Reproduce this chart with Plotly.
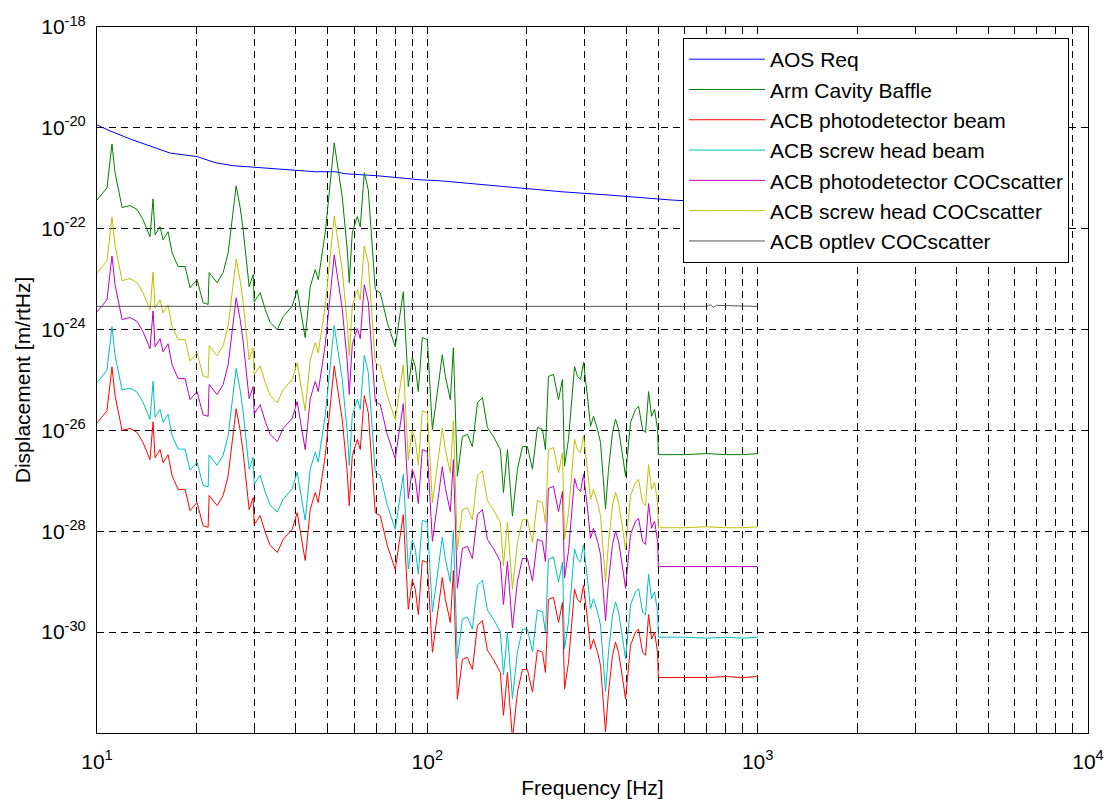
import plotly.graph_objects as go

# ---------------- data ----------------
# shared frequency grid of the scattered-light spectra [Hz]
freq = [10.0, 10.43, 10.72, 11.10, 11.34, 11.91, 12.59, 13.22, 13.78, 14.47,
        14.78, 14.99, 15.52, 15.85, 16.41, 16.88, 17.60, 18.48, 19.13, 20.09,
        20.95, 21.70, 21.85, 23.10, 24.09, 24.95, 26.38, 27.13, 27.70, 28.88,
        29.70, 29.91, 31.19, 32.30, 33.45, 35.13, 36.62, 38.98, 40.36, 42.68,
        44.21, 45.78, 46.75, 49.08, 52.26, 55.26, 57.23, 58.03, 59.26, 61.37,
        62.66, 64.44, 66.26, 69.57, 72.04, 75.64, 79.98, 84.58, 87.58, 90.05,
        91.94, 93.91, 96.56, 100.0, 103.6, 107.2, 111.0, 113.4, 117.4, 119.9,
        123.3, 127.7, 132.2, 136.9, 141.8, 146.8, 152.0, 158.5, 166.4, 170.0,
        174.8, 181.0, 187.4, 194.1, 200.9, 208.1, 215.4, 223.1, 227.8, 232.6,
        240.9, 249.5, 256.5, 260.2, 267.5, 279.0, 284.9, 290.9, 297.0, 305.4,
        311.9, 318.4, 327.5, 334.4, 346.3, 353.6, 363.6, 371.3, 379.2, 392.7,
        398.1, 412.3, 426.9, 436.0, 448.3, 457.8, 467.5, 477.4, 487.5, 497.8,
        500.5, 600.0, 700.0, 800.0, 900.0, 1000.0]

# log10 of displacement [m/rtHz]
arm_cavity_baffle_log = [
    -21.43, -21.27, -21.19, -20.32, -20.89, -21.58, -21.54, -21.62, -21.82, -22.16,
    -21.41, -22.12, -21.96, -22.22, -22.06, -22.48, -22.75, -22.75, -23.17, -23.01,
    -23.47, -23.50, -22.87, -23.07, -22.87, -22.48, -21.15, -21.58, -22.02, -23.15,
    -22.91, -23.45, -23.27, -23.60, -23.86, -24.00, -23.74, -23.54, -23.21, -24.16,
    -23.15, -22.81, -23.01, -22.08, -20.30, -21.37, -22.42, -23.07, -22.08, -21.76,
    -21.96, -20.89, -21.23, -23.21, -23.27, -23.86, -24.34, -23.25, -25.13, -24.55,
    -24.73, -25.23, -24.16, -24.20, -25.98, -25.25, -24.50, -24.93, -25.39, -24.36,
    -26.91, -26.12, -26.08, -26.32, -25.45, -25.35, -25.94, -26.12, -26.38, -27.23,
    -26.38, -27.70, -26.77, -26.32, -26.32, -26.77, -25.94, -25.98, -26.38, -24.93,
    -24.89, -25.39, -24.99, -26.71, -26.18, -24.73, -24.93, -24.99, -24.65, -25.33,
    -25.92, -25.72, -25.98, -26.24, -27.56, -26.77, -26.04, -25.78, -25.98, -26.63,
    -26.91, -25.84, -25.58, -25.52, -25.98, -26.04, -25.23, -25.72, -25.58, -25.98,
    -26.48, -26.48, -26.46, -26.48, -26.48, -26.46]

screw_head_cocscatter_log = [
    -22.88, -22.72, -22.64, -21.77, -22.34, -23.03, -22.99, -23.07, -23.27, -23.61,
    -22.86, -23.57, -23.41, -23.67, -23.51, -23.93, -24.20, -24.20, -24.62, -24.46,
    -24.92, -24.95, -24.32, -24.52, -24.32, -23.93, -22.60, -23.03, -23.47, -24.60,
    -24.36, -24.90, -24.72, -25.05, -25.31, -25.45, -25.19, -24.99, -24.66, -25.61,
    -24.60, -24.26, -24.46, -23.53, -21.75, -22.82, -23.87, -24.52, -23.53, -23.21,
    -23.41, -22.34, -22.68, -24.66, -24.72, -25.31, -25.79, -24.70, -26.58, -26.00,
    -26.18, -26.68, -25.61, -25.65, -27.43, -26.70, -25.95, -26.38, -26.84, -25.81,
    -28.36, -27.57, -27.53, -27.77, -26.90, -26.80, -27.39, -27.57, -27.83, -28.68,
    -27.83, -29.15, -28.22, -27.77, -27.77, -28.22, -27.39, -27.43, -27.83, -26.38,
    -26.34, -26.84, -26.44, -28.16, -27.63, -26.18, -26.38, -26.44, -26.10, -26.78,
    -27.37, -27.17, -27.43, -27.69, -29.01, -28.22, -27.49, -27.23, -27.43, -28.08,
    -28.36, -27.29, -27.03, -26.97, -27.43, -27.49, -26.68, -27.17, -27.03, -27.43,
    -27.93, -27.93, -27.91, -27.93, -27.93, -27.91]

photodetector_cocscatter_log = [
    -23.65, -23.49, -23.41, -22.54, -23.11, -23.80, -23.76, -23.84, -24.04, -24.38,
    -23.63, -24.34, -24.18, -24.44, -24.28, -24.70, -24.97, -24.97, -25.39, -25.23,
    -25.69, -25.72, -25.09, -25.29, -25.09, -24.70, -23.37, -23.80, -24.24, -25.37,
    -25.13, -25.67, -25.49, -25.82, -26.08, -26.22, -25.96, -25.76, -25.43, -26.38,
    -25.37, -25.03, -25.23, -24.30, -22.52, -23.59, -24.64, -25.29, -24.30, -23.98,
    -24.18, -23.11, -23.45, -25.43, -25.49, -26.08, -26.56, -25.47, -27.35, -26.77,
    -26.95, -27.45, -26.38, -26.42, -28.20, -27.47, -26.72, -27.15, -27.61, -26.58,
    -29.13, -28.34, -28.30, -28.54, -27.67, -27.57, -28.16, -28.34, -28.60, -29.45,
    -28.60, -29.92, -28.99, -28.54, -28.54, -28.99, -28.16, -28.20, -28.60, -27.15,
    -27.11, -27.61, -27.21, -28.93, -28.40, -26.95, -27.15, -27.21, -26.87, -27.55,
    -28.14, -27.94, -28.20, -28.46, -29.78, -28.99, -28.26, -28.00, -28.20, -28.85,
    -29.13, -28.06, -27.80, -27.74, -28.20, -28.26, -27.45, -27.94, -27.80, -28.20,
    -28.70, -28.70, -28.70, -28.70, -28.70, -28.70]

screw_head_beam_log = [
    -25.05, -24.89, -24.81, -23.94, -24.51, -25.20, -25.16, -25.24, -25.44, -25.78,
    -25.03, -25.74, -25.58, -25.84, -25.68, -26.10, -26.37, -26.37, -26.79, -26.63,
    -27.09, -27.12, -26.49, -26.69, -26.49, -26.10, -24.77, -25.20, -25.64, -26.77,
    -26.53, -27.07, -26.89, -27.22, -27.48, -27.62, -27.36, -27.16, -26.83, -27.78,
    -26.77, -26.43, -26.63, -25.70, -23.92, -24.99, -26.04, -26.69, -25.70, -25.38,
    -25.58, -24.51, -24.85, -26.83, -26.89, -27.48, -27.96, -26.87, -28.75, -28.17,
    -28.35, -28.85, -27.78, -27.82, -29.60, -28.87, -28.12, -28.55, -29.01, -27.98,
    -30.53, -29.74, -29.70, -29.94, -29.07, -28.97, -29.56, -29.74, -30.00, -30.85,
    -30.00, -31.32, -30.39, -29.94, -29.94, -30.39, -29.56, -29.60, -30.00, -28.55,
    -28.51, -29.01, -28.61, -30.33, -29.80, -28.35, -28.55, -28.61, -28.27, -28.95,
    -29.54, -29.34, -29.60, -29.86, -31.18, -30.39, -29.66, -29.40, -29.60, -30.25,
    -30.53, -29.46, -29.20, -29.14, -29.60, -29.66, -28.85, -29.34, -29.20, -29.60,
    -30.10, -30.10, -30.12, -30.10, -30.12, -30.10]

photodetector_beam_log = [
    -25.85, -25.69, -25.61, -24.74, -25.31, -26.00, -25.96, -26.04, -26.24, -26.58,
    -25.83, -26.54, -26.38, -26.64, -26.48, -26.90, -27.17, -27.17, -27.59, -27.43,
    -27.89, -27.92, -27.29, -27.49, -27.29, -26.90, -25.57, -26.00, -26.44, -27.57,
    -27.33, -27.87, -27.69, -28.02, -28.28, -28.42, -28.16, -27.96, -27.63, -28.58,
    -27.57, -27.23, -27.43, -26.50, -24.72, -25.79, -26.84, -27.49, -26.50, -26.18,
    -26.38, -25.31, -25.65, -27.63, -27.69, -28.28, -28.76, -27.67, -29.55, -28.97,
    -29.15, -29.65, -28.58, -28.62, -30.40, -29.67, -28.92, -29.35, -29.81, -28.78,
    -31.33, -30.54, -30.50, -30.74, -29.87, -29.77, -30.36, -30.54, -30.80, -31.65,
    -30.80, -32.12, -31.19, -30.74, -30.74, -31.19, -30.36, -30.40, -30.80, -29.35,
    -29.31, -29.81, -29.41, -31.13, -30.60, -29.15, -29.35, -29.41, -29.07, -29.75,
    -30.34, -30.14, -30.40, -30.66, -31.98, -31.19, -30.46, -30.20, -30.40, -31.05,
    -31.33, -30.26, -30.00, -29.94, -30.40, -30.46, -29.65, -30.14, -30.00, -30.40,
    -30.90, -30.90, -30.90, -30.88, -30.90, -30.88]

# AOS requirement
aos_freq = [10.0, 10.95, 12.59, 14.47, 16.64, 20.09, 22.78, 25.83, 31.19, 38.44,
            45.78, 52.62, 56.43, 70.56, 81.13, 95.24, 109.5, 128.6, 170.0, 258.3,
            351.2, 545.0, 1000.0]
aos_req_log = [-19.94, -20.06, -20.22, -20.36, -20.50, -20.57, -20.69, -20.75, -20.79, -20.83,
               -20.87, -20.87, -20.91, -20.95, -20.99, -21.03, -21.05, -21.09, -21.17, -21.27,
               -21.33, -21.43, -21.52]

# optical lever COC scatter
optlev_freq = [10.0, 700.0, 720.0, 735.0, 750.0, 1000.0]
optlev_log = [-23.54, -23.54, -23.51, -23.56, -23.52, -23.54]

series = [
    ("AOS Req", aos_freq, aos_req_log, "#0000FF"),
    ("Arm Cavity Baffle", freq, arm_cavity_baffle_log, "#008000"),
    ("ACB photodetector beam", freq, photodetector_beam_log, "#FF0000"),
    ("ACB screw head beam", freq, screw_head_beam_log, "#00BFBF"),
    ("ACB photodetector COCscatter", freq, photodetector_cocscatter_log, "#BF00BF"),
    ("ACB screw head COCscatter", freq, screw_head_cocscatter_log, "#BFBF00"),
    ("ACB optlev COCscatter", optlev_freq, optlev_log, "#555555"),
]

x_tick_vals = [m * 10 ** k for k in (1, 2, 3) for m in range(1, 10)] + [10000]
x_tick_text = [("10<sup>%d</sup>" % k if m == 1 else "") for k in (1, 2, 3) for m in range(1, 10)] + ["10<sup>4</sup>"]
y_exps = [-30, -28, -26, -24, -22, -20, -18]

# ---------------- figure ----------------
FONT = "Liberation Sans, Arial, Helvetica, sans-serif"
fig = go.Figure()
for name, fx, fy, color in series:
    fig.add_trace(go.Scatter(
        x=fx, y=[10 ** v for v in fy], mode="lines", name=name,
        line=dict(color=color, width=1)))

grid_dash = "7px,5px"
fig.update_layout(
    width=1107, height=803,
    margin=dict(l=97, r=19, t=27, b=70),
    paper_bgcolor="white", plot_bgcolor="white",
    font=dict(family=FONT, size=21, color="black"),
    showlegend=True,
    legend=dict(
        x=0.5913, y=0.9844, xanchor="left", yanchor="top",
        bgcolor="white", bordercolor="black", borderwidth=1,
        font=dict(family=FONT, size=21, color="black"),
        itemwidth=76, tracegroupgap=0),
    xaxis=dict(
        type="log", range=[1, 4], automargin=False,
        tickmode="array", tickvals=x_tick_vals, ticktext=x_tick_text,
        ticks="inside", ticklen=5, tickcolor="black",
        showline=True, linecolor="black", linewidth=1, mirror="ticks",
        showgrid=True, gridcolor="black", gridwidth=1, griddash=grid_dash,
        zeroline=False, ticklabelstandoff=10,
        tickfont=dict(family=FONT, size=21),
        title=dict(text="Frequency [Hz]", font=dict(family=FONT, size=21), standoff=8),
    ),
    yaxis=dict(
        type="log", range=[-32, -18], automargin=False,
        tickmode="array", tickvals=[10 ** e for e in y_exps],
        ticktext=["10<sup>%d</sup>" % e for e in y_exps],
        ticks="inside", ticklen=5, tickcolor="black",
        showline=True, linecolor="black", linewidth=1, mirror="ticks",
        showgrid=True, gridcolor="black", gridwidth=1, griddash=grid_dash,
        zeroline=False, ticklabelstandoff=6,
        tickfont=dict(family=FONT, size=21),
        title=dict(text="Displacement [m/rtHz]", font=dict(family=FONT, size=21), standoff=4),
    ),
)

fig.write_html("out.html")
